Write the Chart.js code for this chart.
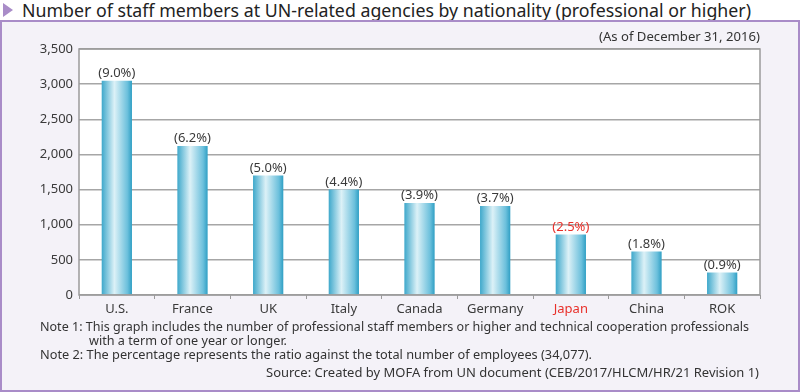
<!DOCTYPE html>
<html lang="en">
<head>
<meta charset="UTF-8">
<title>UN staff by nationality</title>
<style>
  body { margin: 0; width: 800px; height: 392px; background: #fff; font-family: "Noto Sans", sans-serif; color: #333; overflow: hidden; }
  #wrap { position: relative; width: 800px; height: 392px; }
  #title { position: absolute; left: 22px; top: -2px; font-size: 18px; color: #222; white-space: nowrap; transform-origin: 0 0; }
  #tri { position: absolute; left: 3px; top: 3px; width: 0; height: 0; border-top: 7px solid transparent; border-bottom: 7px solid transparent; border-left: 10px solid #a98cc8; }
  #panel { position: absolute; left: 0; top: 20px; width: 796px; height: 368px; border: 2px solid #a98cc8; background: #f4f2f8; }
  #chartBox { position: absolute; left: 0; top: 0; width: 800px; height: 320px; }
  .txt { position: absolute; font-size: 13px; color: #333; white-space: nowrap; transform-origin: 0 0; }
</style>
</head>
<body>
<div id="wrap">
  <div id="tri"></div>
  <div id="title" data-w="729">Number of staff members at UN-related agencies by nationality (professional or higher)</div>
  <div id="panel"></div>
  <div id="chartBox"><canvas id="chart" width="800" height="320"></canvas></div>
  <div class="txt" style="top:27px;" data-w="161" data-right="760">(As of December 31, 2016)</div>
  <div class="txt" style="left:40px; top:317px;" data-w="709">Note 1: This graph includes the number of professional staff members or higher and technical cooperation professionals</div>
  <div class="txt" style="left:89px; top:331px;" data-w="198">with a term of one year or longer.</div>
  <div class="txt" style="left:40px; top:345px;" data-w="552">Note 2: The percentage represents the ratio against the total number of employees (34,077).</div>
  <div class="txt" style="top:363px;" data-w="493" data-right="759">Source: Created by MOFA from UN document (CEB/2017/HLCM/HR/21 Revision 1)</div>
</div>
<script src="https://cdn.jsdelivr.net/npm/chart.js"></script>
<script>
const countries = ['U.S.', 'France', 'UK', 'Italy', 'Canada', 'Germany', 'Japan', 'China', 'ROK'];
const staff = [3050, 2120, 1700, 1500, 1310, 1265, 860, 620, 320];
const shares = ['(9.0%)', '(6.2%)', '(5.0%)', '(4.4%)', '(3.9%)', '(3.7%)', '(2.5%)', '(1.8%)', '(0.9%)'];
const yTicks = [0, 500, 1000, 1500, 2000, 2500, 3000, 3500];
const highlight = 'Japan';

// squeeze text lines to the widths measured on the picture
document.querySelectorAll('[data-w]').forEach(el => {
  const w = el.getBoundingClientRect().width;
  const target = +el.dataset.w;
  el.style.transform = 'scaleX(' + (target / w) + ')';
  if (el.dataset.right) el.style.left = (+el.dataset.right - target) + 'px';
});

const textColor = '#3a3a3a';
const red = '#e8302a';

function barGradient(c) {
  const chart = c.chart;
  if (!chart.chartArea) return '#5ab4d2';
  const x = chart.scales.x;
  const cx = x.getPixelForValue(c.dataIndex);
  const half = (x.width / countries.length) * 0.4 / 2;
  const g = chart.ctx.createLinearGradient(cx - half, 0, cx + half, 0);
  g.addColorStop(0, '#3ea8cb');
  g.addColorStop(0.42, '#dcf1f7');
  g.addColorStop(0.85, '#6cc0dc');
  g.addColorStop(1, '#2f9fc4');
  return g;
}

const frame = {
  id: 'frame',
  beforeDraw(chart) {
    const a = chart.chartArea, ctx = chart.ctx;
    ctx.save();
    ctx.fillStyle = '#fff';
    ctx.fillRect(a.left, a.top, a.right - a.left, a.bottom - a.top);
    ctx.restore();
  },
  afterDraw(chart) {
    const a = chart.chartArea, ctx = chart.ctx;
    ctx.save();
    ctx.strokeStyle = '#9a9a9a';
    ctx.lineWidth = 1.5;
    ctx.strokeRect(a.left, a.top, a.right - a.left, a.bottom - a.top);
    ctx.restore();
  }
};

const shareLabels = {
  id: 'shareLabels',
  afterDatasetsDraw(chart) {
    const ctx = chart.ctx;
    ctx.save();
    ctx.font = '13px "Noto Sans"';
    ctx.textAlign = 'center';
    ctx.textBaseline = 'bottom';
    chart.getDatasetMeta(0).data.forEach((bar, i) => {
      ctx.fillStyle = countries[i] === highlight ? red : textColor;
      ctx.fillText(shares[i], bar.x, bar.y - 1);
    });
    ctx.restore();
  }
};

new Chart(document.getElementById('chart'), {
  type: 'bar',
  data: {
    labels: countries,
    datasets: [{
      data: staff,
      backgroundColor: barGradient,
      borderWidth: 0,
      barPercentage: 0.4,
      categoryPercentage: 1
    }]
  },
  options: {
    responsive: false,
    animation: false,
    layout: { padding: { top: 49, right: 40, left: 0, bottom: 0 } },
    plugins: { legend: { display: false }, tooltip: { enabled: false } },
    scales: {
      x: {
        afterFit(s) { s.height = 25; },
        grid: { drawOnChartArea: false, drawTicks: true, tickLength: 4, color: '#9a9a9a', offset: true },
        border: { display: false },
        ticks: {
          padding: 2,
          font: { family: 'Noto Sans', size: 13 },
          color: c => countries[c.index] === highlight ? red : textColor
        }
      },
      y: {
        min: 0,
        max: 3500,
        afterFit(s) { s.width = 79; },
        afterBuildTicks(s) { s.ticks = yTicks.map(v => ({ value: v })); },
        grid: { color: '#a6a6a6', lineWidth: 1.5, drawTicks: false },
        border: { display: false },
        ticks: {
          padding: 6,
          font: { family: 'Noto Sans', size: 13 },
          color: textColor,
          callback: v => v.toLocaleString('en-US')
        }
      }
    }
  },
  plugins: [frame, shareLabels]
});
</script>
</body>
</html>
